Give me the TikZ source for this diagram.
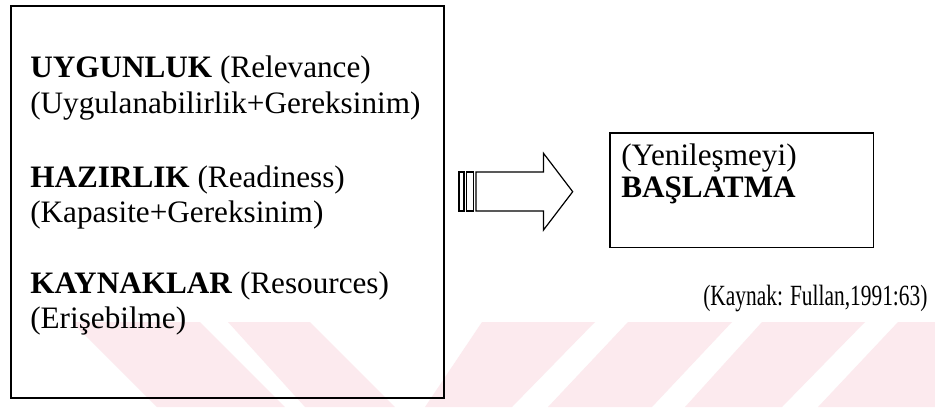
\documentclass[tikz,border=0pt]{standalone}
\usepackage{fontspec}
\setmainfont{Liberation Serif}
\definecolor{wmpink}{RGB}{252,234,238}
\begin{document}
\begin{tikzpicture}[x=0.75pt,y=-0.75pt,
  box/.style={draw, line width=1.2pt, inner sep=0pt, anchor=north west},
  txt/.style={anchor=base west, inner sep=0pt, font=\fontsize{23.4}{28}\selectfont},
  wm/.style={fill=wmpink, draw=none},
  arr/.style={draw, line width=0.9pt, fill=white, line join=miter}]
\useasboundingbox (0,0) rectangle (935,407);
\fill[white] (0,0) rectangle (935,407);
% watermark stripes
\fill[wm] (72,322) -- (200,322) -- (285,407) -- (157,407) -- cycle;
\fill[wm] (228,322) -- (310,322) -- (395,407) -- (305,407) -- cycle;
\fill[wm] (482,322) -- (595,322) -- (512,407) -- (425,407) -- cycle;
\fill[wm] (628,322) -- (732,322) -- (652,407) -- (548,407) -- cycle;
\fill[wm] (762,322) -- (865,322) -- (782,407) -- (685,407) -- cycle;
\fill[wm] (898,322) -- (935,322) -- (935,407) -- (818,407) -- cycle;
% boxes
\node[box, minimum width=324.75pt, minimum height=294pt] (left) at (10,5) {};
\node[box, minimum width=197.8pt, minimum height=86pt] (right) at (609,132) {};
% left texts
\node[txt] (u1) at (30,77) {\textbf{UYGUNLUK} (Relevance)};
\node[txt] (u2) at (30,113) {(Uygulanabilirlik+Gereksinim)};
\node[txt] (h1) at (30,187) {\textbf{HAZIRLIK} (Readiness)};
\node[txt] (h2) at (30,222) {(Kapasite+Gereksinim)};
\node[txt] (k1) at (30,293) {\textbf{KAYNAKLAR} (Resources)};
\node[txt] (k2) at (30,328) {(Erişebilme)};
% right texts
\node[txt] (y1) at (621,165) {(Yenileşmeyi)};
\node[txt] (y2) at (621,197) {\textbf{BAŞLATMA}};
% source
\node[anchor=base west, inner sep=0pt] (src) at (703,305)
  {\scalebox{0.73}[1]{\fontsize{22}{26}\selectfont (Kaynak: Fullan,1991:63)}};
% block arrow
\draw[arr] (459,172) rectangle (464,211);
\draw[arr] (466.5,172) rectangle (473.5,211);
\draw[arr] (476,172) -- (543.5,172) -- (543.5,153.3) -- (572.7,191.7)
  -- (543.5,230) -- (543.5,211) -- (476,211) -- cycle;
\end{tikzpicture}
\end{document}
